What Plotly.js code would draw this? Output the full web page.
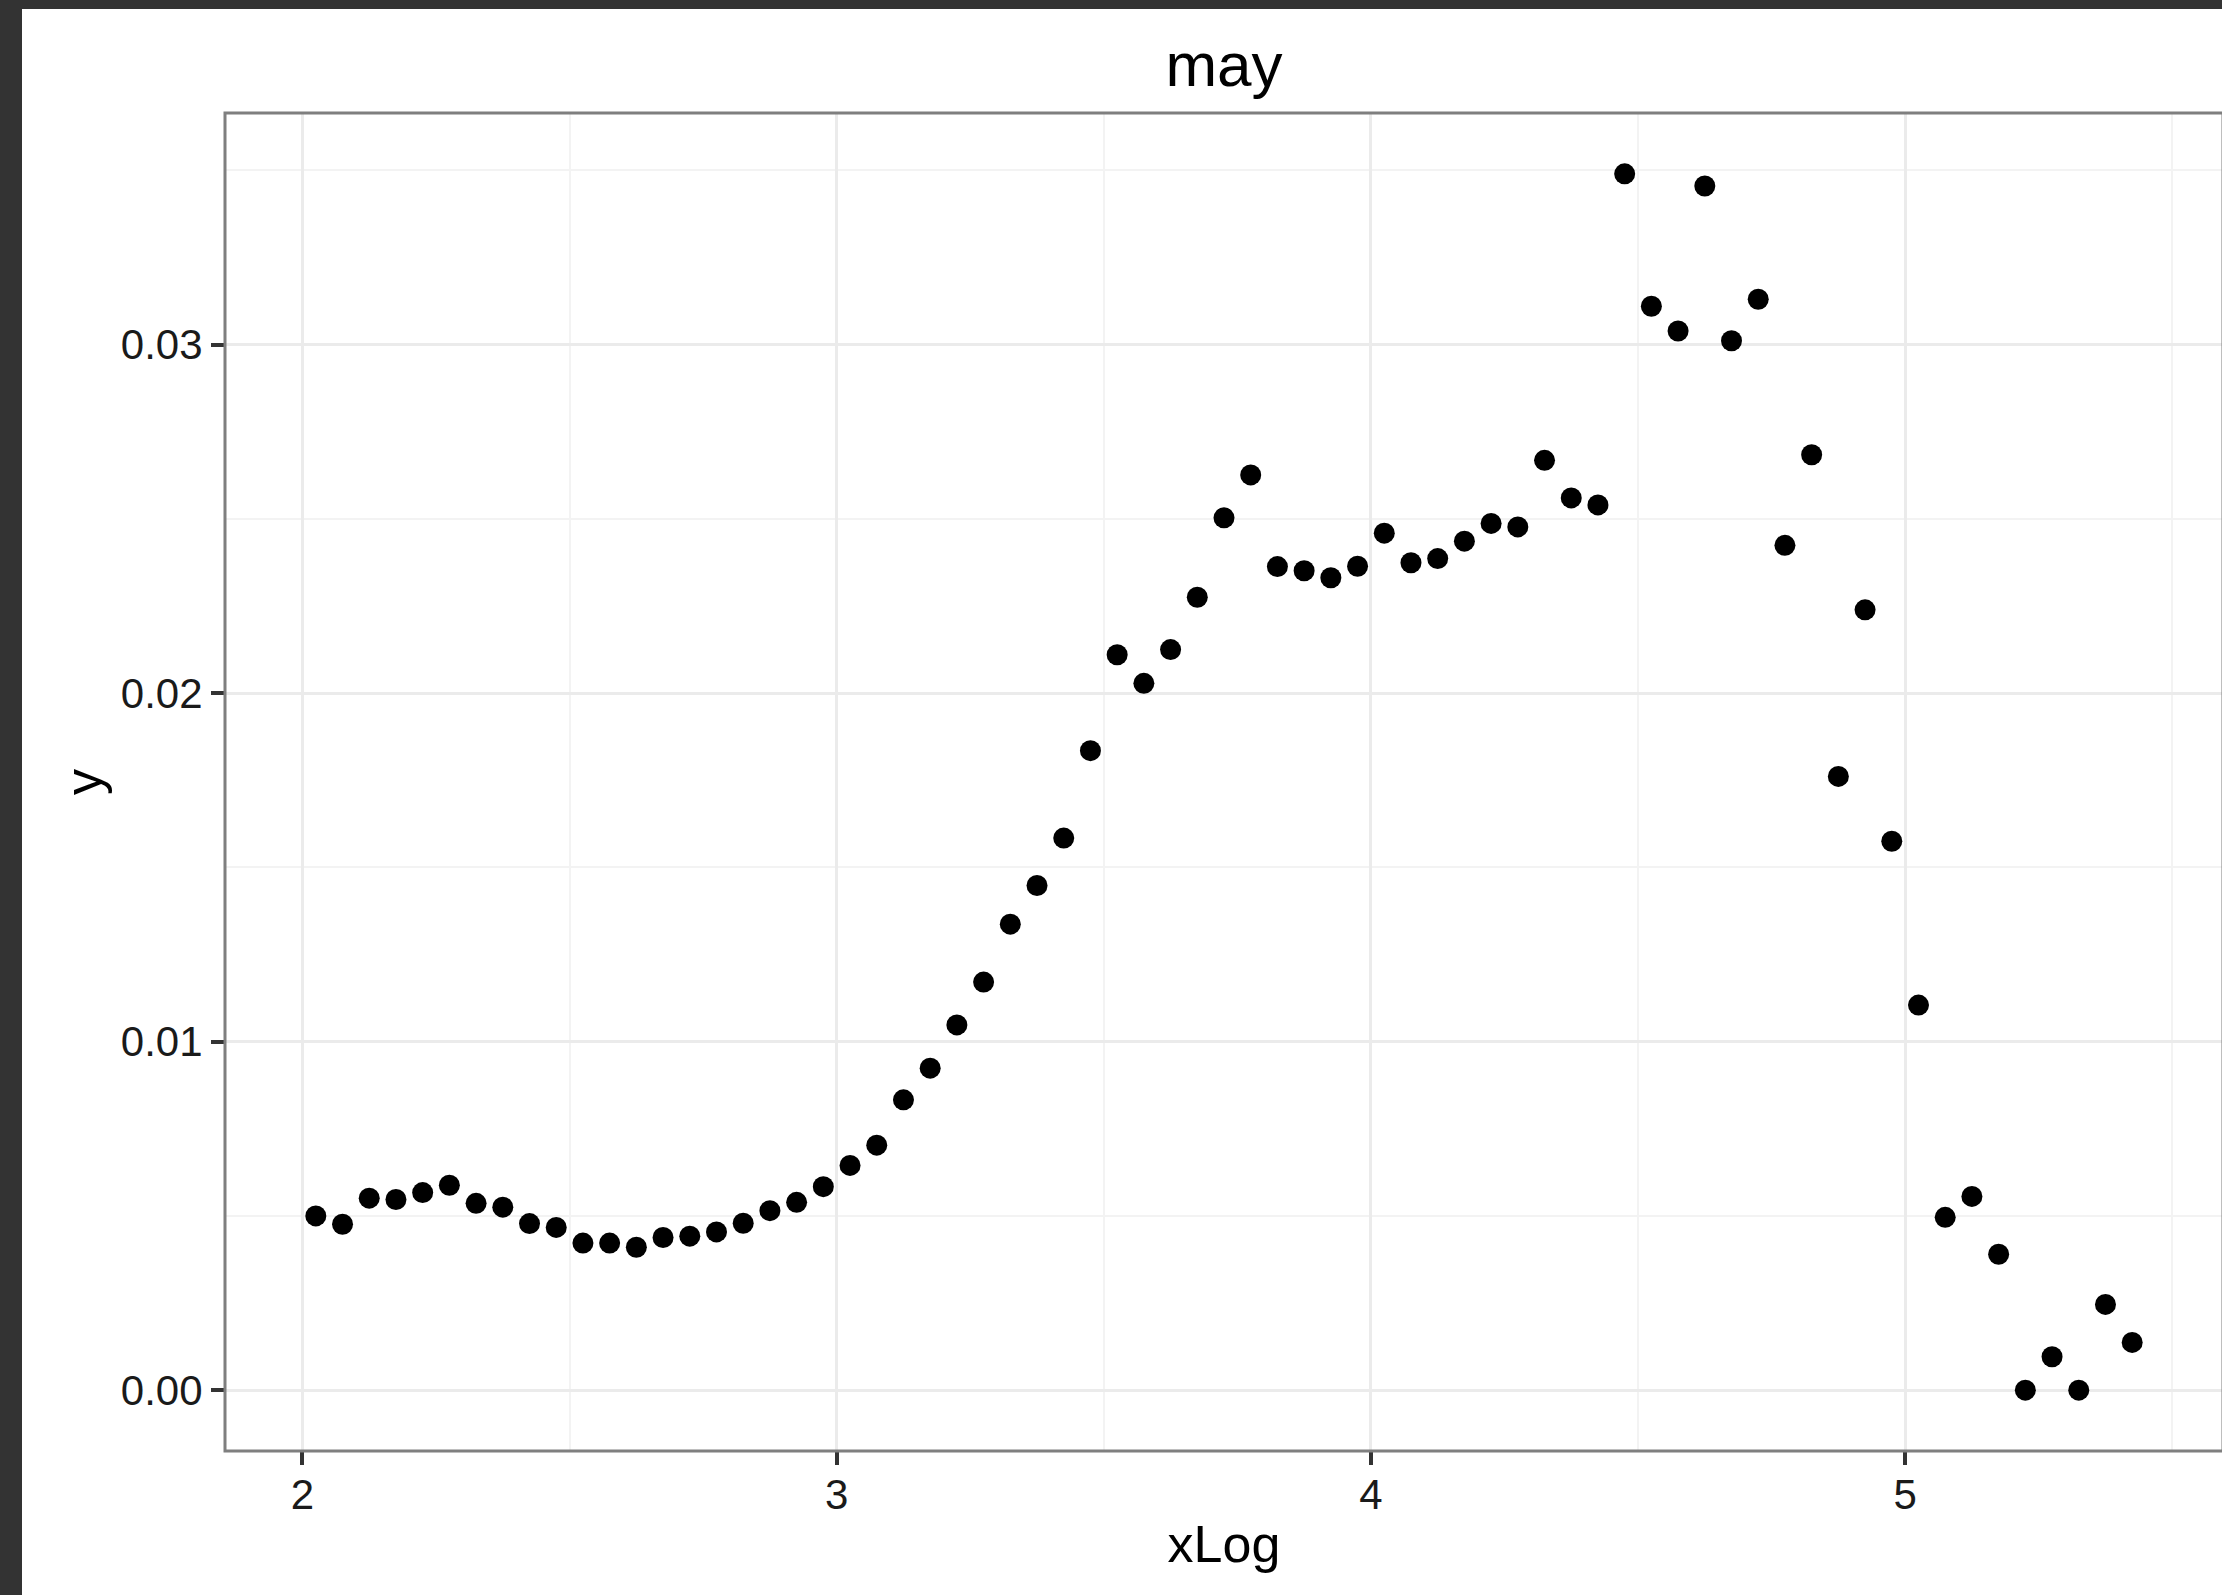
<!DOCTYPE html>
<html>
<head>
<meta charset="utf-8">
<script src="https://cdn.plot.ly/plotly-3.0.1.min.js"></script>
<style>
  html, body { margin: 0; padding: 0; background: #333333; overflow: hidden; width: 2222px; height: 1595px; }
  #chart { position: absolute; left: 22px; top: 9px; width: 2210px; height: 1586px; background: #ffffff; }
</style>
</head>
<body>
<div id="chart"></div>
<script>
// ---- data ----
const chartTitle = "may";
const xLabel = "xLog";
const yLabel = "y";

const xLog = [
  2.025, 2.075, 2.125, 2.175, 2.225, 2.275, 2.325, 2.375, 2.425, 2.475,
  2.525, 2.575, 2.625, 2.675, 2.725, 2.775, 2.825, 2.875, 2.925, 2.975,
  3.025, 3.075, 3.125, 3.175, 3.225, 3.275, 3.325, 3.375, 3.425, 3.475,
  3.525, 3.575, 3.625, 3.675, 3.725, 3.775, 3.825, 3.875, 3.925, 3.975,
  4.025, 4.075, 4.125, 4.175, 4.225, 4.275, 4.325, 4.375, 4.425, 4.475,
  4.525, 4.575, 4.625, 4.675, 4.725, 4.775, 4.825, 4.875, 4.925, 4.975,
  5.025, 5.075, 5.125, 5.175, 5.225, 5.275, 5.325, 5.375, 5.425
];

const yVals = [
  0.00500, 0.00476, 0.00551, 0.00547, 0.00567, 0.00588, 0.00536, 0.00525, 0.00478, 0.00467,
  0.00422, 0.00422, 0.00410, 0.00438, 0.00442, 0.00454, 0.00479, 0.00515, 0.00539, 0.00584,
  0.00645, 0.00703, 0.00833, 0.00924, 0.01048, 0.01171, 0.01337, 0.01448, 0.01584, 0.01835,
  0.02110, 0.02028, 0.02125, 0.02275, 0.02503, 0.02626, 0.02363, 0.02351, 0.02331, 0.02364,
  0.02459, 0.02374, 0.02386, 0.02436, 0.02487, 0.02477, 0.02668, 0.02560, 0.02540, 0.03490,
  0.03110, 0.03039, 0.03455, 0.03011, 0.03130, 0.02424, 0.02684, 0.01761, 0.02239, 0.01575,
  0.01105, 0.00496, 0.00556, 0.00390, 0.00000, 0.00096, 0.00000, 0.00246, 0.00137
];

const xTicks = [2, 3, 4, 5];
const xTickText = ["2", "3", "4", "5"];
const yTicks = [0.00, 0.01, 0.02, 0.03];
const yTickText = ["0.00", "0.01", "0.02", "0.03"];

// ---- ggplot-like default expansion (5% each side) ----
function expand(arr) {
  const lo = Math.min(...arr), hi = Math.max(...arr);
  const pad = (hi - lo) * 0.05;
  return [lo - pad, hi + pad];
}

const FONT = "Liberation Sans, Arial, Helvetica, sans-serif";

const trace = {
  type: "scatter",
  mode: "markers",
  x: xLog,
  y: yVals,
  marker: { color: "#000000", size: 21, line: { width: 0 } },
  hoverinfo: "x+y",
  showlegend: false
};

const layout = {
  width: 2210,
  height: 1586,
  paper_bgcolor: "#ffffff",
  plot_bgcolor: "#ffffff",
  margin: { l: 203, r: 9, t: 104, b: 144, pad: 0 },
  font: { family: FONT, color: "#000000" },
  title: {
    text: chartTitle,
    font: { family: FONT, size: 62, color: "#000000" },
    xref: "paper", x: 0.5, xanchor: "center",
    yref: "container", y: 1 - 77 / 1586, yanchor: "bottom",
    pad: { t: 0, b: 0, l: 0, r: 0 }
  },
  xaxis: {
    range: expand(xLog),
    tickmode: "array",
    tickvals: xTicks,
    ticktext: xTickText,
    ticks: "outside",
    ticklen: 13,
    tickwidth: 4,
    tickcolor: "#333333",
    ticklabelstandoff: -6,
    tickfont: { family: FONT, size: 42, color: "#1a1a1a" },
    showgrid: true,
    gridcolor: "#ebebeb",
    gridwidth: 3,
    minor: { dtick: 0.5, tick0: 0, showgrid: true, gridcolor: "#f3f3f3", gridwidth: 2, ticks: "" },
    zeroline: false,
    showline: false,
    automargin: false,
    title: { text: xLabel, font: { family: FONT, size: 52, color: "#000000" }, standoff: 8 }
  },
  yaxis: {
    range: expand(yVals),
    tickmode: "array",
    tickvals: yTicks,
    ticktext: yTickText,
    ticks: "outside",
    ticklen: 13,
    tickwidth: 4,
    tickcolor: "#333333",
    tickfont: { family: FONT, size: 42, color: "#1a1a1a" },
    showgrid: true,
    gridcolor: "#ebebeb",
    gridwidth: 3,
    minor: { dtick: 0.005, tick0: 0, showgrid: true, gridcolor: "#f3f3f3", gridwidth: 2, ticks: "" },
    zeroline: false,
    showline: false,
    automargin: false,
    title: { text: yLabel, font: { family: FONT, size: 52, color: "#000000" }, standoff: 2 }
  },
  shapes: [{
    type: "rect", xref: "paper", yref: "paper",
    x0: 0, x1: 1, y0: 0, y1: 1,
    line: { color: "#7f7f7f", width: 3 },
    fillcolor: "rgba(0,0,0,0)",
    layer: "above"
  }]
};

Plotly.newPlot("chart", [trace], layout, { displayModeBar: false, staticPlot: true });
</script>
</body>
</html>
